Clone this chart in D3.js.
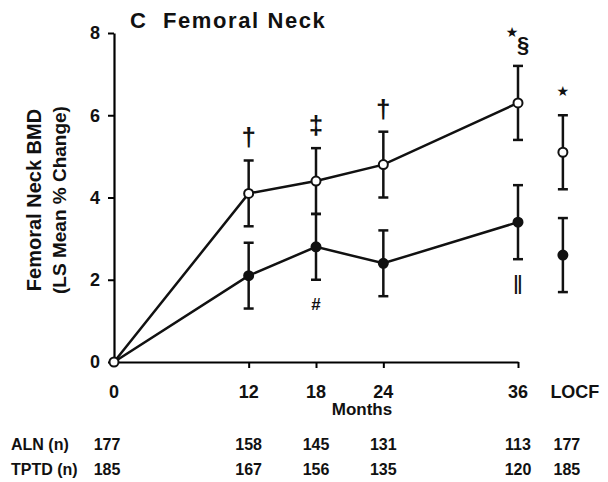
<html>
<script src="https://d3js.org/d3.v7.min.js"></script>
<style>
  body { margin: 0; background: #fff; }
  text { font-family: "Liberation Sans", Arial, sans-serif; fill: #111; }
</style>
<body>
<svg width="608" height="482"></svg>
<script>
// months on the x axis; LOCF is drawn as its own column to the right of 36
var months = [0, 12, 18, 24, 36];
var tickLabels = ["0", "12", "18", "24", "36", "LOCF"];

// open circles (upper series)
var openMean = [0, 4.1, 4.4, 4.8, 6.3];
var openErr  = [0, 0.8, 0.8, 0.8, 0.9];
var openLocf = 5.1, openLocfErr = 0.9;

// filled circles (lower series)
var fillMean = [0, 2.1, 2.8, 2.4, 3.4];
var fillErr  = [0, 0.8, 0.8, 0.8, 0.9];
var fillLocf = 2.6, fillLocfErr = 0.9;

// significance marks: [column index, symbol]
var marksAbove = [[1, "\u2020"], [2, "\u2021"], [3, "\u2020"], [4, "\u00a7"]];
var starsAbove = [4, 5];
var marksBelow = [[2, "#"], [4, "\u2016"]];

// patients at each visit
var nALN  = [177, 158, 145, 131, 113, 177];
var nTPTD = [185, 167, 156, 135, 120, 185];

var svg = d3.select("svg");

var x = d3.scaleLinear().domain([0, 36]).range([114, 518]);
var y = d3.scaleLinear().domain([0, 8]).range([362, 33]);
var locfX = x(40);

function colX(i) { return i < months.length ? x(months[i]) : locfX; }

// axes
var yAxis = svg.append("g")
    .attr("transform", "translate(" + x(0) + ",0)")
    .call(d3.axisLeft(y).tickValues([0, 2, 4, 6, 8]).tickSize(6).tickSizeOuter(0).tickPadding(8));
yAxis.select(".domain").attr("stroke-width", 2.2);
yAxis.selectAll(".tick line").attr("stroke-width", 2);
yAxis.selectAll("text").style("font-size", "18px").style("font-weight", "bold")
    .style("font-family", "Liberation Sans, Arial, sans-serif");

var xAxis = svg.append("g")
    .attr("transform", "translate(0," + y(0) + ")")
    .call(d3.axisBottom(x).tickValues([12, 18, 24, 36]).tickSize(6).tickSizeOuter(0).tickFormat(""));
xAxis.select(".domain").attr("stroke-width", 2.2);
xAxis.selectAll(".tick line").attr("stroke-width", 2);

// x tick labels (including 0 and LOCF)
svg.append("g").selectAll("text")
  .data(tickLabels)
  .enter().append("text")
    .attr("x", function(d, i) { return i == 5 ? colX(i) + 12 : colX(i); })
    .attr("y", 398)
    .attr("text-anchor", "middle")
    .style("font-size", "18px").style("font-weight", "bold")
    .text(function(d) { return d; });

svg.append("text")
    .attr("x", 362).attr("y", 415)
    .attr("text-anchor", "middle")
    .style("font-size", "17px").style("font-weight", "bold")
    .text("Months");

// y label
svg.append("text")
    .attr("transform", "translate(41,200) rotate(-90)")
    .attr("text-anchor", "middle")
    .style("font-size", "20px").style("font-weight", "bold")
    .text("Femoral Neck BMD");
svg.append("text")
    .attr("transform", "translate(66,200) rotate(-90)")
    .attr("text-anchor", "middle")
    .style("font-size", "19px").style("font-weight", "bold")
    .text("(LS Mean % Change)");

// title
svg.append("text")
    .attr("x", 130).attr("y", 28)
    .style("font-size", "22px").style("font-weight", "bold")
    .style("letter-spacing", "1.6px")
    .attr("xml:space", "preserve")
    .text("C  Femoral Neck");

// series
var line = d3.line()
    .x(function(d) { return x(d[0]); })
    .y(function(d) { return y(d[1]); });

function drawSeries(mean, err, locf, locfErr, open) {
  var pts = months.map(function(m, i) { return [m, mean[i], err[i]]; });
  svg.append("path")
    .datum(pts)
    .attr("d", line)
    .attr("fill", "none")
    .attr("stroke", "#111")
    .attr("stroke-width", 2.5);

  var all = pts.slice(1).map(function(d) { return { cx: x(d[0]), m: d[1], e: d[2] }; });
  all.push({ cx: locfX, m: locf, e: locfErr });

  var g = svg.append("g");
  all.forEach(function(d) {
    g.append("line")
      .attr("x1", d.cx).attr("x2", d.cx)
      .attr("y1", y(d.m - d.e)).attr("y2", y(d.m + d.e))
      .attr("stroke", "#111").attr("stroke-width", 2.5);
    [d.m - d.e, d.m + d.e].forEach(function(v) {
      g.append("line")
        .attr("x1", d.cx - 5).attr("x2", d.cx + 5)
        .attr("y1", y(v)).attr("y2", y(v))
        .attr("stroke", "#111").attr("stroke-width", 2.5);
    });
  });

  svg.append("g").selectAll("circle")
    .data(all)
    .enter().append("circle")
      .attr("cx", function(d) { return d.cx; })
      .attr("cy", function(d) { return y(d.m); })
      .attr("r", 4.5)
      .attr("fill", open ? "#fff" : "#111")
      .attr("stroke", "#111")
      .attr("stroke-width", 2);
  return all;
}

var fillPts = drawSeries(fillMean, fillErr, fillLocf, fillLocfErr, false);
var openPts = drawSeries(openMean, openErr, openLocf, openLocfErr, true);

// origin marker
svg.append("circle")
    .attr("cx", x(0)).attr("cy", y(0)).attr("r", 4.5)
    .attr("fill", "#fff").attr("stroke", "#111").attr("stroke-width", 2);

// significance marks
svg.append("g").selectAll("text")
  .data(marksAbove)
  .enter().append("text")
    .attr("x", function(d) { return colX(d[0]) + (d[0] == 4 ? 5 : 0); })
    .attr("y", function(d) { var p = openPts[d[0] - 1]; return y(p.m + p.e) - 14; })
    .attr("text-anchor", "middle")
    .style("font-size", function(d) { return d[0] == 4 ? "22px" : "26px"; })
    .style("font-weight", "bold")
    .text(function(d) { return d[1]; });

svg.append("g").selectAll("text")
  .data(starsAbove)
  .enter().append("text")
    .attr("x", function(i) { return colX(i) + (i == 4 ? -6 : 0); })
    .attr("y", function(i) { var p = openPts[i - 1]; return y(p.m + p.e) - (i == 4 ? 29 : 19); })
    .attr("text-anchor", "middle")
    .style("font-size", "14px")
    .style("font-family", "DejaVu Sans")
    .text("\u2605");

svg.append("g").selectAll("text")
  .data(marksBelow)
  .enter().append("text")
    .attr("x", function(d) { return colX(d[0]); })
    .attr("y", function(d) { var p = fillPts[d[0] - 1]; return y(p.m - p.e) + (d[1] == "#" ? 30 : 35); })
    .attr("text-anchor", "middle")
    .style("font-size", function(d) { return d[1] == "#" ? "17px" : "25px"; })
    .style("font-weight", function(d) { return d[1] == "#" ? "bold" : "normal"; })
    .text(function(d) { return d[1]; });

// n table
function nRow(label, vals, yy) {
  svg.append("text")
    .attr("x", 11).attr("y", yy)
    .style("font-size", "16px").style("font-weight", "bold")
    .text(label);
  svg.append("g").selectAll("text")
    .data(vals)
    .enter().append("text")
      .attr("x", function(d, i) { return colX(i) + (i == 0 ? -7 : i == 5 ? 4 : 0); })
      .attr("y", yy)
      .attr("text-anchor", "middle")
      .style("font-size", "16px").style("font-weight", "bold")
      .text(function(d) { return d; });
}
nRow("ALN (n)", nALN, 450);
nRow("TPTD (n)", nTPTD, 475);
</script>
</body>
</html>
